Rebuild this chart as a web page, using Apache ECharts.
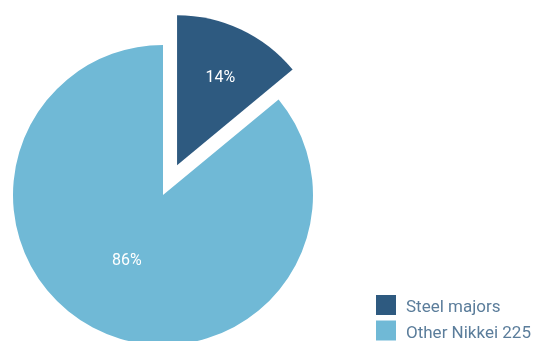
<!DOCTYPE html>
<html>
<head>
<meta charset="utf-8">
<script src="https://cdn.jsdelivr.net/npm/echarts@6/dist/echarts.min.js"></script>
<style>
  html, body { margin: 0; padding: 0; background: #fff; }
  #main { width: 537px; height: 341px; }
</style>
</head>
<body>
<div id="main"></div>
<script>
var categories = ['Steel majors', 'Other Nikkei 225'];
var shares = [14, 86];
var colors = ['#2e5a80', '#70b9d6'];

var myChart = echarts.init(document.getElementById('main'));

var data = categories.map(function (name, i) {
    var item = {
        name: name,
        value: shares[i],
        itemStyle: { color: colors[i] },
        select: { itemStyle: { color: colors[i] } }
    };
    // exploded slice, label pushed further out
    if (i === 0) {
        item.selected = true;
        item.label = {
            padding: [0, 0, 0, 20],
            rich: { s: { height: 34 } }
        };
    }
    return item;
});

var option = {
    animation: false,
    legend: {
        orient: 'vertical',
        left: 371,
        top: 290,
        height: 100,
        itemWidth: 20,
        itemHeight: 20,
        itemGap: 4,
        icon: 'rect',
        selectedMode: false,
        formatter: '{t|{name}}',
        textStyle: {
            color: '#5b7d9b',
            fontSize: 17,
            fontFamily: 'Roboto',
            padding: [0, 0, 0, 5],
            rich: {
                t: {
                    color: '#5b7d9b',
                    fontSize: 17,
                    fontFamily: 'Roboto',
                    padding: [6, 0, 0, 0]
                }
            }
        },
        data: categories
    },
    series: [
        {
            type: 'pie',
            center: [163, 195],
            radius: [0, 150],
            startAngle: 90,
            clockwise: true,
            selectedMode: 'single',
            selectedOffset: 33,
            emphasis: { scale: false, disabled: true },
            label: {
                show: true,
                position: 'inside',
                formatter: '{c}%\n{s|}',
                color: '#fff',
                fontSize: 16,
                fontFamily: 'Roboto',
                padding: [0, 6, 0, 0],
                rich: { s: { height: 10 } }
            },
            labelLine: { show: false },
            data: data
        }
    ]
};

myChart.setOption(option);
</script>
</body>
</html>
